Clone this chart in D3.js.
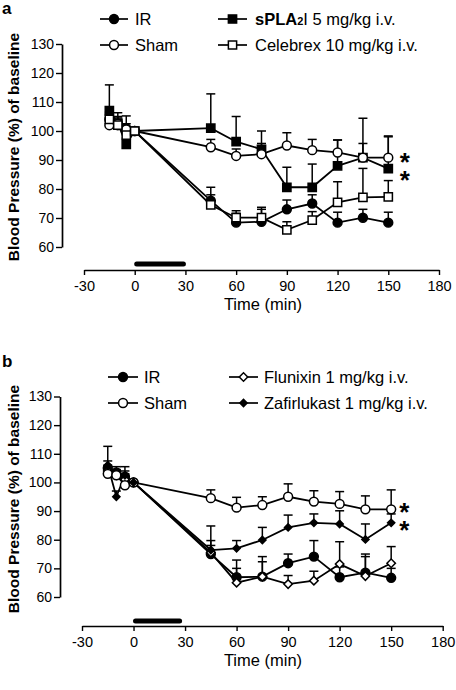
<!DOCTYPE html>
<html><head><meta charset="utf-8">
<script src="https://cdn.jsdelivr.net/npm/d3@7"></script>
<style>
body{margin:0;background:#fff;}
svg text{font-family:"Liberation Sans",Arial,Helvetica,sans-serif;fill:#000;}
</style></head><body>
<svg id="c" width="456" height="690" style="background:#fff"></svg>
<script>
// ---------- data ----------
const times = [-15,-10,-5,0,45,60,75,90,105,120,135,150];
const xTicks = [-30,0,30,60,90,120,150,180];
const yTicks = [60,70,80,90,100,110,120,130];
const infusion = [0,30];
const infusionB = [0,28];

// panel a : values and upper SEM (top of error bar); null = no bar
const irA      = [104,102,101,100,76,68.4,68.7,73,75,68.4,70.1,68.4];
const irAErr   = [106.5,104.5,105.2,null,80.6,71.6,73,76.2,78,72,73,72];
const shamA    = [102,102.5,100.5,100,94.4,91.4,92,95,93.4,92.6,90.8,90.8];
const shamAErr = [104.5,104,102.5,null,97.1,93.8,95.7,99.4,97.1,96.9,95.7,98.3];
const splaA    = [107,102.6,95.4,100,101,96.3,93.7,80.6,80.6,88,90.8,87];
const splaAErr = [115.9,106.3,97.5,null,112.8,105,100,87.5,88.6,96.9,104.4,98];
const celA     = [104,102,98.6,100,74.5,70.1,70.1,65.9,69.3,75.4,77.1,77.3];
const celAErr  = [106,105,101,null,78,72.5,73.7,68.7,72.2,82.5,87.1,82.9];

// panel b
const irB      = [105,103.5,102,100,75,66.9,67.1,71.8,74.1,66.9,68.5,66.7];
const irBErr   = [107.5,105.5,104,null,79.7,72.9,74.1,75,79.7,70.5,75,70];
const shamB    = [103,102.5,99,100,94.5,91.2,92.1,95,93.3,92.5,90.6,90.6];
const shamBErr = [105,104,101,null,97.4,94.8,95,99.5,97.1,96.8,95.3,97.4];
const fluB     = [104,102.5,101,100,75.5,65,67.1,64.5,65.7,71.5,67.3,71.8];
const fluBErr  = [106,104.5,103,null,78,70,72.3,67.5,69,79.3,74.1,77.6];
const zafB     = [106,95,102.5,100,76.4,77,79.9,84.3,85.9,85.5,80.1,85.9];
const zafBErr  = [112.6,97,105.5,null,84.8,79.7,84.3,88.6,89,90.1,85.5,89];

const namesA = ["IR","sPLA2I 5 mg/kg i.v.","Sham","Celebrex 10 mg/kg i.v."];
const namesB = ["IR","Flunixin 1 mg/kg i.v.","Sham","Zafirlukast 1 mg/kg i.v."];
const xTitle = "Time (min)";
const yTitle = "Blood Pressure (%) of baseline";

// ---------- layout ----------
const svg = d3.select("#c");
const FONT = '"Liberation Sans",Arial,sans-serif';

const panels = [
  { label:"a", labelY:14, xr:[84,439], yr:[247,44], axisY:270, xTitleY:310, yTitleCY:147,
    bar:infusion, barY:264,
    legendRows:[19,45], legendCols:[[100,128,135],[218,247,255]],
    series:[
      {name:namesA[0], v:irA,   e:irAErr,   m:"circle", fill:"#000", leg:[0,0]},
      {name:namesA[1], v:splaA, e:splaAErr, m:"square", fill:"#000", leg:[1,0]},
      {name:namesA[2], v:shamA, e:shamAErr, m:"circle", fill:"#fff", leg:[0,1]},
      {name:namesA[3], v:celA,  e:celAErr,  m:"square", fill:"#fff", leg:[1,1]}
    ],
    starDx:11.5, stars:[[2,-2],[1,5.6]]
  },
  { label:"b", labelY:367, xr:[82,442.7], yr:[597,396.5], axisY:626, xTitleY:666, yTitleCY:499,
    bar:infusionB, barY:621,
    legendRows:[377,403], legendCols:[[108,138,144],[229,258,264]],
    series:[
      {name:namesB[0], v:irB,   e:irBErr,   m:"circle",  fill:"#000", leg:[0,0]},
      {name:namesB[1], v:fluB,  e:fluBErr,  m:"diamond", fill:"#fff", leg:[1,0]},
      {name:namesB[2], v:shamB, e:shamBErr, m:"circle",  fill:"#fff", leg:[0,1]},
      {name:namesB[3], v:zafB,  e:zafBErr,  m:"diamondS",fill:"#000", leg:[1,1]}
    ],
    starDx:8, stars:[[2,-3.3],[3,0.8]]
  }
];

function markerPath(m){
  if(m==="circle") return d3.symbol().type(d3.symbolCircle).size(62)();
  if(m==="square") return d3.symbol().type(d3.symbolSquare).size(68)();
  if(m==="diamond") return d3.symbol().type(d3.symbolSquare).size(36)();
  return d3.symbol().type(d3.symbolSquare).size(26)();
}
function markerRot(m){ return (m==="diamond"||m==="diamondS") ? 45 : 0; }

panels.forEach(p=>{
  const g = svg.append("g");
  const x = d3.scaleLinear().domain([-30,180]).range(p.xr);
  const y = d3.scaleLinear().domain([60,130]).range(p.yr);

  // panel label
  g.append("text").attr("x",2).attr("y",p.labelY).attr("font-size",17).attr("font-weight","bold").text(p.label);

  // y axis
  const ya = g.append("g").attr("transform",`translate(${p.xr[0]-22},0)`)
    .call(d3.axisLeft(y).tickValues(yTicks).tickFormat(d=>String(d)).tickSize(6).tickPadding(2).tickSizeOuter(0));
  ya.select(".domain").attr("stroke","#000").attr("stroke-width",1.7);
  ya.selectAll(".tick line").attr("stroke","#000").attr("stroke-width",1.4);
  ya.selectAll(".tick text").attr("font-size",14).attr("font-family",FONT).attr("fill","#000");

  // x axis
  const xa = g.append("g").attr("transform",`translate(0,${p.axisY})`)
    .call(d3.axisBottom(x).tickValues(xTicks).tickFormat(d=>String(d)).tickSize(5).tickPadding(6).tickSizeOuter(0));
  xa.select(".domain").attr("stroke","#000").attr("stroke-width",1.7);
  xa.selectAll(".tick line").attr("stroke","#000").attr("stroke-width",1.4);
  xa.selectAll(".tick text").attr("font-size",14.5).attr("font-family",FONT).attr("fill","#000");

  // titles
  g.append("text").attr("x",263).attr("y",p.xTitleY)
    .attr("text-anchor","middle").attr("font-size",16.5).text(xTitle);
  g.append("text").attr("transform",`translate(19,${p.yTitleCY}) rotate(-90)`)
    .attr("text-anchor","middle").attr("font-size",15.5).attr("font-weight","bold").text(yTitle);

  // infusion bar
  g.append("line").attr("x1",x(p.bar[0])+2).attr("x2",x(p.bar[1])-2)
    .attr("y1",p.barY).attr("y2",p.barY)
    .attr("stroke","#000").attr("stroke-width",5).attr("stroke-linecap","round");

  const line = d3.line().x((d,i)=>x(times[i])).y(d=>y(d));

  // error bars
  p.series.forEach(s=>{
    s.e.forEach((e,i)=>{
      if(e==null) return;
      const cx = x(times[i]);
      g.append("line").attr("x1",cx).attr("x2",cx).attr("y1",y(s.v[i])).attr("y2",y(e))
        .attr("stroke","#000").attr("stroke-width",1.5);
      g.append("line").attr("x1",cx-4.5).attr("x2",cx+4.5).attr("y1",y(e)).attr("y2",y(e))
        .attr("stroke","#000").attr("stroke-width",1.5);
    });
  });
  // lines
  p.series.forEach(s=>{
    g.append("path").datum(s.v).attr("d",line).attr("fill","none")
      .attr("stroke","#000").attr("stroke-width",1.8);
  });
  // markers
  p.series.forEach(s=>{
    g.selectAll(null).data(s.v).enter().append("path")
      .attr("d",markerPath(s.m))
      .attr("transform",(d,i)=>`translate(${x(times[i])},${y(d)}) rotate(${markerRot(s.m)})`)
      .attr("fill",s.fill).attr("stroke","#000").attr("stroke-width",1.5);
  });

  // significance stars (glyph centred ~0.58em above baseline)
  const SF = 26;
  p.stars.forEach(([si,dy])=>{
    const s = p.series[si];
    const last = s.v.length-1;
    g.append("text").attr("x",x(times[last])+p.starDx).attr("y",y(s.v[last])+dy+0.58*SF)
      .attr("font-size",SF).attr("font-weight","bold").text("*");
  });

  // legend
  p.series.forEach(s=>{
    const col = p.legendCols[s.leg[0]];
    const ry = p.legendRows[s.leg[1]];
    g.append("line").attr("x1",col[0]).attr("x2",col[1]).attr("y1",ry).attr("y2",ry)
      .attr("stroke","#000").attr("stroke-width",1.7);
    g.append("path").attr("d",markerPath(s.m))
      .attr("transform",`translate(${(col[0]+col[1])/2},${ry}) rotate(${markerRot(s.m)})`)
      .attr("fill",s.fill).attr("stroke","#000").attr("stroke-width",1.5);
    const t = g.append("text").attr("x",col[2]).attr("y",ry).attr("dy","0.36em").attr("font-size",16.5);
    if(s.name.startsWith("sPLA2I")){
      t.append("tspan").attr("font-weight","bold").text("sPLA");
      t.append("tspan").attr("font-size",11).attr("font-weight","bold").text("2");
      t.append("tspan").text("I" + s.name.slice(6));
    } else {
      t.text(s.name);
    }
  });
});
</script>
</body></html>
